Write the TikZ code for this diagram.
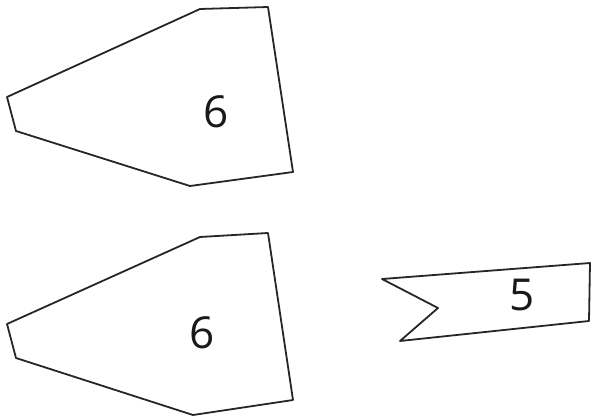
\documentclass[tikz,border=0pt]{standalone}
\usepackage{fontspec}
\setmainfont{Open Sans}
\begin{document}
\begin{tikzpicture}[x=1pt,y=-1pt,
  outline/.style={draw=black!85,line width=1.8pt,line join=round},
  digit/.style={font=\fontsize{44}{44}\selectfont,text=black!90,inner sep=0pt}]
\useasboundingbox (0,0) rectangle (595,420);
\draw[outline] (7,97) -- (200,9) -- (268,7) -- (293,172) -- (190,186) -- (16,131) -- cycle;
\node[digit] (top) at (216,112) {6};
\draw[outline] (7,324) -- (200,237) -- (268,233) -- (293,400) -- (193,415) -- (16,358) -- cycle;
\node[digit] (bottom) at (202,333) {6};
\draw[outline] (382,279) -- (590,263) -- (589,321) -- (400,341) -- (438,308) -- cycle;
\node[digit] (right) at (522,295) {5};
\end{tikzpicture}
\end{document}
